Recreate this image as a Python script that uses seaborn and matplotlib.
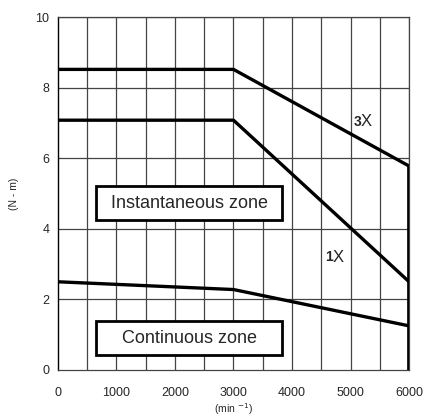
# torque vs speed curve
import numpy as np
import pandas as pd
import matplotlib.pyplot as plt
import seaborn as sns


# data
speed = [0, 3000, 6000]
torque_3x = [8.52, 8.52, 5.78]
torque_1x = [7.08, 7.08, 2.5]
torque_cont = [2.5, 2.28, 1.25]

x_ticks = [0, 1000, 2000, 3000, 4000, 5000, 6000]
y_ticks = [0, 2, 4, 6, 8, 10]

df = pd.DataFrame({
    "speed": speed * 3,
    "torque": torque_3x + torque_1x + torque_cont,
    "curve": ["3X"] * 3 + ["1X"] * 3 + ["cont"] * 3,
})


sns.set_style("white")
plt.rcParams["font.family"] = ["Liberation Sans", "DejaVu Sans"]

fig = plt.figure(figsize=(4.32, 4.19), dpi=100)
ax = fig.add_axes([0.134, 0.117, 0.813, 0.842])

# grid
for gx in np.arange(500, 6001, 500):
    ax.axvline(gx, color="#444444", lw=0.9, zorder=1)
for gy in [2, 4, 6, 8, 10]:
    ax.axhline(gy, color="#444444", lw=0.9, zorder=1)

sns.lineplot(
    data=df,
    x="speed",
    y="torque",
    units="curve",
    estimator=None,
    color="black",
    lw=2.4,
    ax=ax,
    zorder=3
)

# thick limit at 6000
ax.plot([6000, 6000], [0, torque_3x[-1]], color="black", lw=3.4,
        solid_capstyle="butt", zorder=4)

ax.set_xlim(0, 6000)
ax.set_ylim(0, 10)
ax.set_xticks(x_ticks)
ax.set_yticks(y_ticks)
ax.tick_params(axis="x", length=0, pad=12, labelsize=9)
ax.tick_params(axis="y", length=0, pad=6, labelsize=9)

for s in ["top", "right", "bottom"]:
    ax.spines[s].set_color("#444444")
    ax.spines[s].set_linewidth(0.9)
ax.spines["left"].set_color("black")
ax.spines["left"].set_linewidth(1.0)

ax.set_xlabel("(min $^{-1}$)", fontsize=7.5, labelpad=2)
ax.set_ylabel("(N - m)", fontsize=7.5, labelpad=12)

# zone boxes
for y0, y1, label in [(4.25, 5.21, "Instantaneous zone"), (0.42, 1.39, "Continuous zone")]:
    ax.add_patch(plt.Rectangle((650, y0), 3180, y1 - y0, fc="white",
                               ec="black", lw=2.0, zorder=5))
    ax.text(2240, (y0 + y1) / 2, label, ha="center", va="center",
            fontsize=13, zorder=6)

# curve labels
ax.text(5180, 7.03, "3", fontweight="bold", fontsize=10, ha="right", va="center")
ax.text(5180, 7.03, "X", fontsize=12, ha="left", va="center")
ax.text(4690, 3.2, "1", fontweight="bold", fontsize=10, ha="right", va="center")
ax.text(4690, 3.2, "X", fontsize=12, ha="left", va="center")

plt.savefig("out.png", dpi=100)
